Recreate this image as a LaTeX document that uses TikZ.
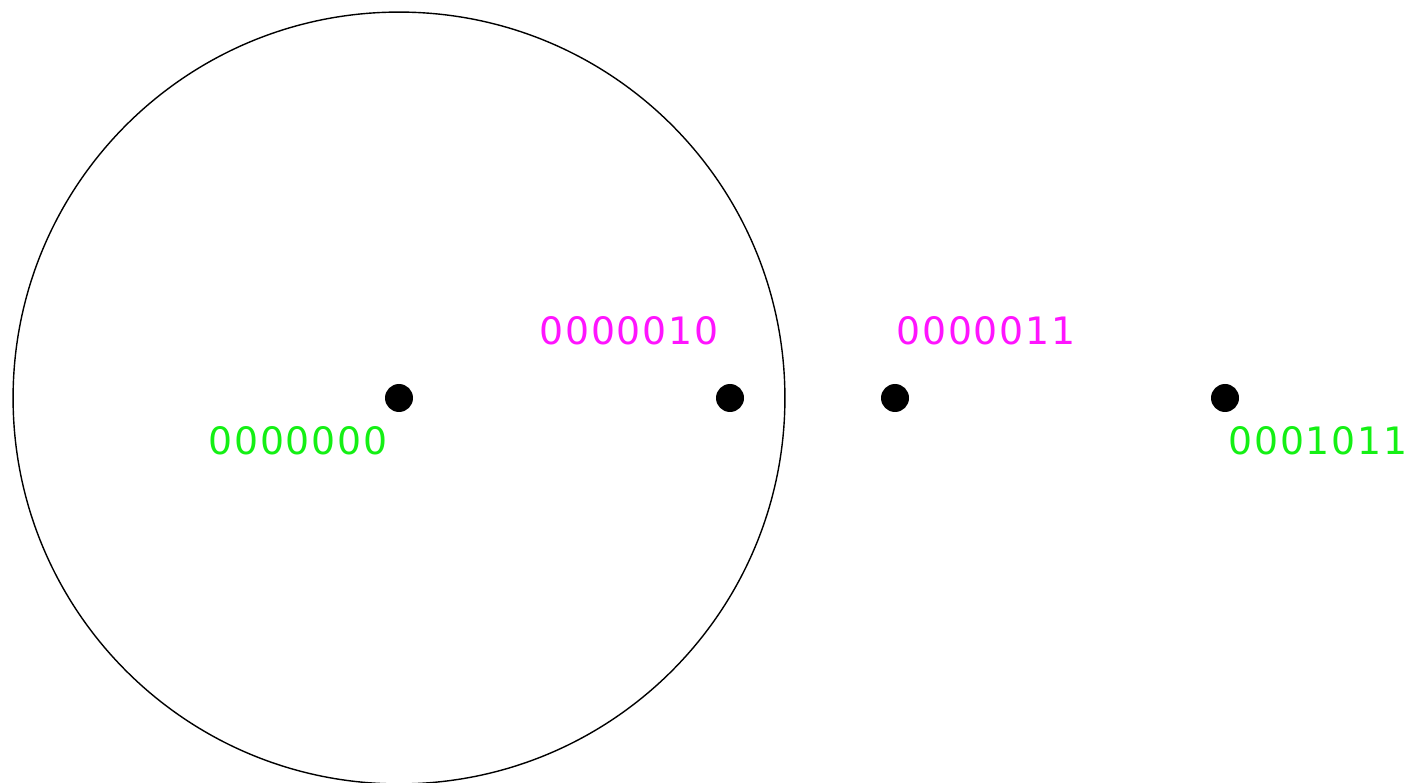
\documentclass[tikz,border=0pt]{standalone}
\usepackage{fontspec}
\newfontfamily\codefont[LetterSpace=5]{DejaVu Sans}
\definecolor{codegreen}{RGB}{20,240,20}
\definecolor{codemagenta}{RGB}{255,20,255}
\begin{document}
\begin{tikzpicture}[
        x=0.02cm, y=-0.02cm,
        punto/.style={circle, fill=black, inner sep=0pt, minimum size=0.56cm},
        codigo/.style={font=\codefont\fontsize{21.5}{22}\selectfont, inner sep=0pt}
    ]
        \useasboundingbox (0,0) rectangle (1411,783);

        % Radio de decodificacion alrededor de la palabra cero
        \draw[line width=0.8pt] (399,398) circle (7.72cm);

        % Palabras
        \node[punto] (w0) at (399,398) {};
        \node[punto] (w1) at (730,398) {};
        \node[punto] (w2) at (895,398) {};
        \node[punto] (w3) at (1225,398) {};

        % Etiquetas
        \node[codigo, codegreen] (l0) at (298,441) {0000000};
        \node[codigo, codemagenta] (l1) at (629,331) {0000010};
        \node[codigo, codemagenta] (l2) at (986,331) {0000011};
        \node[codigo, codegreen] (l3) at (1318,441) {0001011};
    \end{tikzpicture}
\end{document}
